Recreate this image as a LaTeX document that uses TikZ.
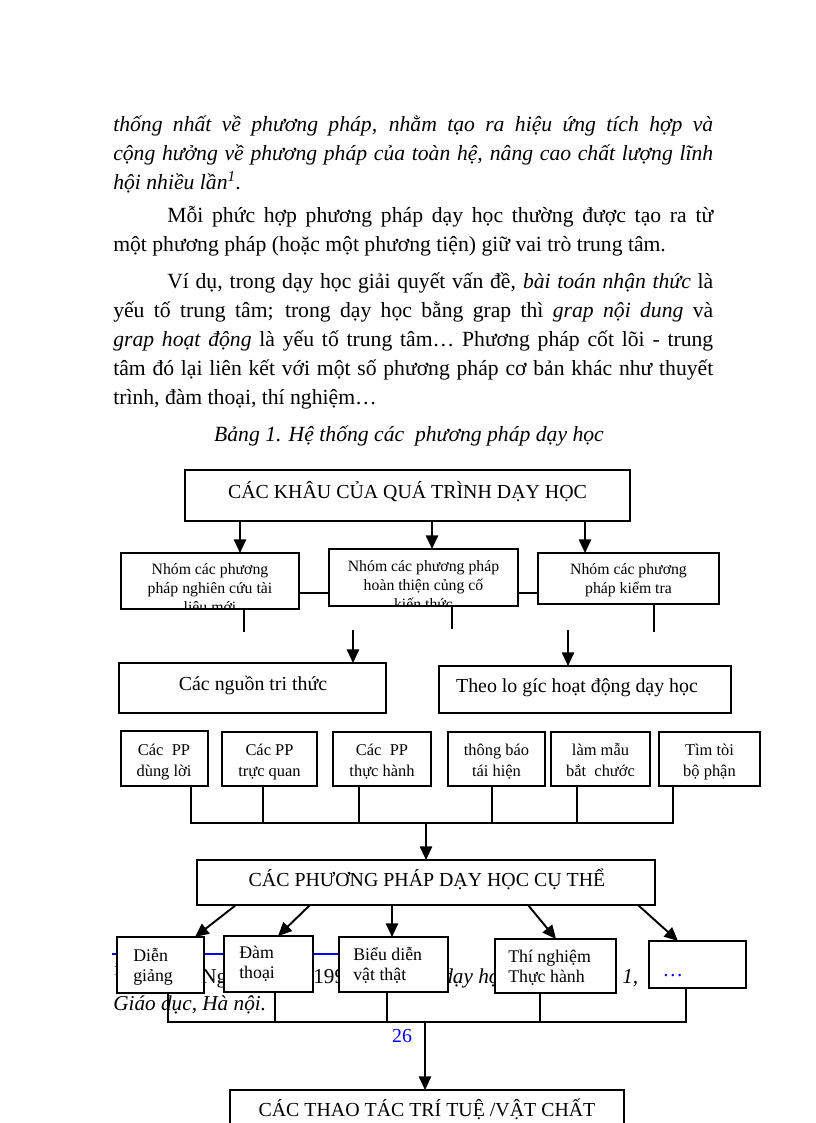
\documentclass[tikz,border=0pt]{standalone}
\usepackage{fontspec}
\setmainfont{Liberation Serif}
\usetikzlibrary{arrows.meta}
\newcommand\bx[6]{%
  \node[box,#6,minimum width={(#4-#2)*0.7295pt},minimum height={(#5-#3)*0.7295pt}] (#1) at ({(#2+#4)/2},{(#3+#5)/2}) {};}
\begin{document}
\begin{tikzpicture}[x=0.7295pt,y=-0.7295pt,
  box/.style={draw, line width=1.8pt, fill=white, inner sep=0pt, outer sep=0pt},
  con/.style={line width=1.4pt},
  arr/.style={line width=1.4pt, -{Triangle[width=9pt,length=10pt]}},
  body/.style={anchor=base west, inner sep=0pt, font=\fontsize{15.8}{20}\selectfont},
  foot/.style={anchor=base west, inner sep=0pt, font=\fontsize{15.5}{20}\selectfont},
  tx/.style={anchor=base, inner sep=0pt, align=center},
  big/.style={font=\fontsize{14.5}{16}\selectfont},
  bsm/.style={font=\fontsize{11.5}{13.5}\selectfont},
  dsm/.style={font=\fontsize{12}{15.3}\selectfont},
  fsm/.style={font=\fontsize{13}{14}\selectfont, align=left, anchor=base west, inner sep=0pt},
]
\useasboundingbox (0,0) rectangle (816,1123);
\clip (0,0) rectangle (816,1123);
\fill[white] (0,0) rectangle (816,1123);

% ---------- body text ----------
\node[body] (t1) at (113,131) {\itshape\makebox[437.7pt][s]{thống nhất về phương pháp, nhằm tạo ra hiệu ứng tích hợp và}};
\node[body] (t2) at (113,160) {\itshape\makebox[437.7pt][s]{cộng hưởng về phương pháp của toàn hệ, nâng cao chất lượng lĩnh}};
\node[body] (t3) at (113,189) {\itshape hội nhiều lần\textsuperscript{1}.};
\node[body] (t4) at (167,222) {\makebox[398.3pt][s]{Mỗi phức hợp phương pháp dạy học thường được tạo ra từ}};
\node[body] (t5) at (113,251) {một phương pháp (hoặc một phương tiện) giữ vai trò trung tâm.};
\node[body] (t6) at (167,288) {\makebox[398.3pt][s]{Ví dụ, trong dạy học giải quyết vấn đề, \textit{bài toán nhận thức} là}};
\node[body] (t7) at (113,317) {\makebox[437.7pt][s]{yếu tố trung tâm; trong dạy học bằng grap thì \textit{grap nội dung} và}};
\node[body] (t8) at (113,346) {\makebox[437.7pt][s]{\textit{grap hoạt động} là yếu tố trung tâm… Phương pháp cốt lõi - trung}};
\node[body] (t9) at (113,375) {\makebox[437.7pt][s]{tâm đó lại liên kết với một số phương pháp cơ bản khác như thuyết}};
\node[body] (t10) at (113,404) {trình, đàm thoại, thí nghiệm…};
\node[body, anchor=base] (cap) at (409,441) {\itshape Bảng 1. Hệ thống các\ \ phương pháp dạy học};

% ---------- footnote fragments (the rest is hidden behind the boxes) ----------
\draw[blue, line width=1pt] (112,954) -- (345,954);
\node[foot] (fnA) at (113,983) {\textsuperscript{1}};
\node[foot] (fnB) at (201,983) {Ng};
\node[foot] (fnC) at (306,983) {(1994};
\node[foot] (fnD) at (442,983) {\itshape dạy học};
\node[foot] (fnE) at (622,983) {\itshape 1,};
\node[foot] (fn2) at (113,1010) {\itshape Giáo dục, Hà nội.};

% ---------- boxes ----------
\bx{A}{185}{470}{630}{521}{}
\node[tx, big] (At) at (407.5,498) {CÁC KHÂU CỦA QUÁ TRÌNH DẠY HỌC};

\bx{B1}{121}{553}{299}{609}{}
\bx{B2}{329}{549}{518}{606}{}
\bx{B3}{538}{553}{719}{604}{}
\begin{scope}
\clip ([shift={(1.5,-1.5)}]B1.south west) rectangle ([shift={(-1.5,1.5)}]B1.north east);
\node[tx, bsm] (B1t) at (210,612) {Nhóm các phương\\pháp nghiên cứu tài\\liệu mới};
\end{scope}
\begin{scope}
\clip ([shift={(1.5,-1.5)}]B2.south west) rectangle ([shift={(-1.5,1.5)}]B2.north east);
\node[tx, bsm] (B2t) at (423.5,609) {Nhóm các phương pháp\\hoàn thiện củng cố\\kiến thức};
\end{scope}
\node[tx, bsm] (B3t) at (628.5,593) {Nhóm các phương\\pháp kiểm tra};

\bx{C1}{119}{663}{386}{713}{}
\node[tx, big] (C1t) at (253,690) {Các nguồn tri thức};
\bx{C2}{439}{666}{731}{713}{}
\node[tx, big] (C2t) at (577,692) {Theo lo gíc hoạt động dạy học};

\bx{D1}{121}{731}{208}{786}{}
\bx{D2}{222}{732}{317}{786}{}
\bx{D3}{333}{732}{431}{786}{}
\bx{D4}{448}{732}{545}{786}{}
\bx{D5}{551}{732}{650}{786}{}
\bx{D6}{659}{732}{760}{786}{}
\node[tx, dsm] (D1t) at (164,776) {Các\ \ PP\\dùng lời};
\node[tx, dsm] (D2t) at (269.5,776) {Các PP\\trực quan};
\node[tx, dsm] (D3t) at (382,776) {Các\ \ PP\\thực hành};
\node[tx, dsm] (D4t) at (496.5,776) {thông báo\\tái hiện};
\node[tx, dsm] (D5t) at (600.5,776) {làm mẫu\\bắt\ \ chước};
\node[tx, dsm] (D6t) at (709.5,776) {Tìm tòi\\bộ phận};

\bx{E}{197}{860}{655}{905}{}
\node[tx, big] (Et) at (427,886) {CÁC PHƯƠNG PHÁP DẠY HỌC CỤ THỂ};

\bx{F1}{117}{937}{204}{993}{}
\bx{F2}{224}{936}{313}{992}{}
\bx{F3}{339}{937}{448}{992}{}
\bx{F4}{495}{939}{616}{993}{}
\bx{F5}{649}{941}{746}{988}{}
\node[fsm] (F1t) at (133,981) {Diễn\\giảng};
\node[fsm] (F2t) at (239,978) {Đàm\\thoại};
\node[fsm] (F3t) at (353,980) {Biểu diễn\\vật thật};
\node[fsm] (F4t) at (508,982) {Thí nghiệm\\Thực hành};
\node[tx, font=\fontsize{15}{16}\selectfont, text=blue] (F5t) at (673,976) {…};

\bx{G}{230}{1090}{624}{1140}{}
\node[tx, big] (Gt) at (427,1116) {CÁC THAO TÁC TRÍ TUỆ /VẬT CHẤT};

\node[tx, font=\fontsize{14.5}{16}\selectfont, text=blue] (pg) at (402,1042) {26};

% ---------- connectors ----------
\coordinate (xa1) at (240,0);
\coordinate (xa2) at (432,0);
\coordinate (xa3) at (585,0);
\draw[arr] (A.south -| xa1) -- (B1.north -| xa1);
\draw[arr] (A.south -| xa2) -- (B2.north -| xa2);
\draw[arr] (A.south -| xa3) -- (B3.north -| xa3);

\coordinate (yb) at (0,593);
\draw[con] (B1.east |- yb) -- (B2.west |- yb);
\draw[con] (B2.east |- yb) -- (B3.west |- yb);

\coordinate (b1d) at (244,632);
\coordinate (b2d) at (452,629);
\coordinate (b3d) at (654,632);
\draw[con] (B1.south -| b1d) -- (b1d);
\draw[con] (B2.south -| b2d) -- (b2d);
\draw[con] (B3.south -| b3d) -- (b3d);

\coordinate (c1u) at (353,630);
\coordinate (c2u) at (568,630);
\draw[arr] (c1u) -- (C1.north -| c1u);
\draw[arr] (c2u) -- (C2.north -| c2u);

\coordinate (d1) at (191,823);
\coordinate (d2) at (263,823);
\coordinate (d3) at (359,823);
\coordinate (d4) at (492,823);
\coordinate (d5) at (577,823);
\coordinate (d6) at (673,823);
\coordinate (dm) at (426,823);
\draw[con] (D1.south -| d1) -- (d1) -- (d6) -- (D6.south -| d6);
\draw[con] (D2.south -| d2) -- (d2);
\draw[con] (D3.south -| d3) -- (d3);
\draw[con] (D4.south -| d4) -- (d4);
\draw[con] (D5.south -| d5) -- (d5);
\draw[arr] (dm) -- (E.north -| dm);

\coordinate (e1) at (236,0);
\coordinate (e2) at (310,0);
\coordinate (e3) at (392,0);
\coordinate (e4) at (528,0);
\coordinate (e5) at (638,0);
\coordinate (f1) at (195,0);
\coordinate (f2) at (278,0);
\coordinate (f3) at (392,0);
\coordinate (f4) at (556,0);
\coordinate (f5) at (678,0);
\draw[arr] (E.south -| e1) -- (F1.north -| f1);
\draw[arr] (E.south -| e2) -- (F2.north -| f2);
\draw[arr] (E.south -| e3) -- (F3.north -| f3);
\draw[arr] (E.south -| e4) -- (F4.north -| f4);
\draw[arr] (E.south -| e5) -- (F5.north -| f5);

\coordinate (g1) at (168,1022);
\coordinate (g2) at (275,1022);
\coordinate (g3) at (387,1022);
\coordinate (g4) at (540,1022);
\coordinate (g5) at (686,1022);
\coordinate (gm) at (425,1022);
\draw[con] (F1.south -| g1) -- (g1) -- (g5) -- (F5.south -| g5);
\draw[con] (F2.south -| g2) -- (g2);
\draw[con] (F3.south -| g3) -- (g3);
\draw[con] (F4.south -| g4) -- (g4);
\draw[arr] (gm) -- (G.north -| gm);
\end{tikzpicture}
\end{document}
